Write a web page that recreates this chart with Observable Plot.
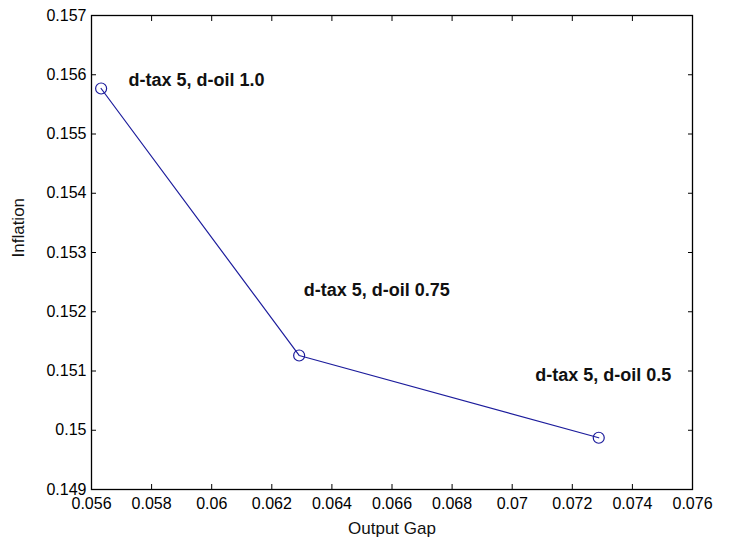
<!DOCTYPE html>
<html>
<head>
<meta charset="utf-8">
<script src="https://cdn.jsdelivr.net/npm/d3@7"></script>
<script src="https://cdn.jsdelivr.net/npm/@observablehq/plot@0.6"></script>
<style>
  html, body { margin: 0; padding: 0; background: #ffffff; }
  #chart svg { display: block; }
</style>
</head>
<body>
<div id="chart"></div>
<script>
const outputGap = [0.05632, 0.06291, 0.07288];
const inflation = [0.155768, 0.151262, 0.149873];
const labels = ["d-tax 5, d-oil 1.0", "d-tax 5, d-oil 0.75", "d-tax 5, d-oil 0.5"];
const labelX = [0.05723, 0.06306, 0.07077];
const labelY = [0.155903, 0.152359, 0.150924];
const xTicks = [0.056, 0.058, 0.06, 0.062, 0.064, 0.066, 0.068, 0.07, 0.072, 0.074, 0.076];
const yTicks = [0.149, 0.15, 0.151, 0.152, 0.153, 0.154, 0.155, 0.156, 0.157];
const xLabel = "Output Gap";
const yLabel = "Inflation";

const points = outputGap.map((x, i) => ({x, y: inflation[i]}));
const notes = labels.map((t, i) => ({t, x: labelX[i], y: labelY[i]}));
const fmt = d => String(+d.toFixed(3));
const font = "'Liberation Sans', Arial, sans-serif";

const chart = Plot.plot({
  width: 732,
  height: 540,
  marginLeft: 91,
  marginRight: 40,
  marginTop: 15,
  marginBottom: 51,
  style: {fontFamily: font, background: "#ffffff", color: "#000"},
  x: {domain: [0.056, 0.076]},
  y: {domain: [0.149, 0.157]},
  marks: [
    Plot.frame({stroke: "#000", strokeWidth: 1.3}),
    Plot.axisX({anchor: "bottom", ticks: xTicks, tickSize: -5, tickPadding: 13, tickFormat: fmt, fontSize: 16, label: null}),
    Plot.axisX({anchor: "top", ticks: xTicks, tickSize: -5, tickFormat: () => "", label: null}),
    Plot.axisY({anchor: "left", ticks: yTicks, tickSize: -5, tickPadding: 10, tickFormat: fmt, fontSize: 16, label: null}),
    Plot.axisY({anchor: "right", ticks: yTicks, tickSize: -5, tickFormat: () => "", label: null}),
    Plot.line(points, {x: "x", y: "y", stroke: "#1c1c9c", strokeWidth: 1.2}),
    Plot.dot(points, {x: "x", y: "y", r: 5.5, stroke: "#1c1c9c", strokeWidth: 1.2, fill: "none"}),
    Plot.text(notes, {x: "x", y: "y", text: "t", textAnchor: "start", lineAnchor: "middle", fontSize: 18, fontWeight: "bold", fill: "#111"}),
    Plot.text([xLabel], {frameAnchor: "bottom", dy: 39, fontSize: 17, lineAnchor: "middle", fill: "#111"}),
    Plot.text([yLabel], {frameAnchor: "left", dx: -73, dy: 5, rotate: -90, fontSize: 17, lineAnchor: "middle", fill: "#111"})
  ]
});
document.getElementById("chart").appendChild(chart);
</script>
</body>
</html>
